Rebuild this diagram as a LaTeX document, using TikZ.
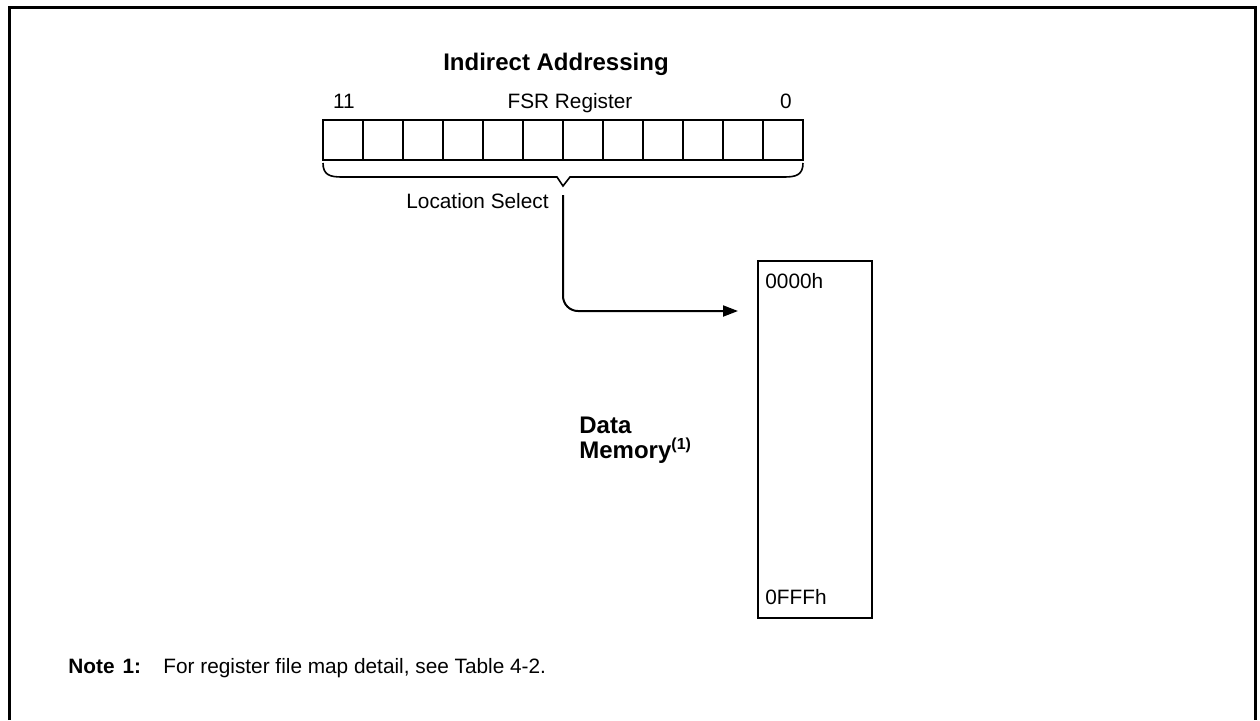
\documentclass[tikz,border=0pt]{standalone}
\usepackage{fontspec}
\setmainfont{Liberation Sans}
\usetikzlibrary{arrows.meta}
\begin{document}
\begin{tikzpicture}[x=0.5pt,y=-0.5pt,
  txt/.style={inner sep=0pt, font=\fontsize{10.4}{12}\selectfont},
  btxt/.style={inner sep=0pt, font=\fontsize{12}{14}\selectfont\bfseries},
  ntxt/.style={inner sep=0pt, font=\fontsize{10.4}{12}\selectfont\bfseries},
  cell/.style={draw, line width=1pt, minimum width=20pt, minimum height=20pt, inner sep=0pt, outer sep=0pt},
  membox/.style={draw, line width=1pt, minimum width=57pt, minimum height=178.5pt, inner sep=0pt},
  conn/.style={line width=1pt, rounded corners=7.5pt, -{Triangle[length=7.5pt,width=5.5pt]}},
  bracestyle/.style={line width=0.8pt}]
\useasboundingbox (0,0) rectangle (1260,720);
% frame (open at bottom)
\draw[line width=1.5pt] (9,720) -- (9,7) -- (1255,7) -- (1255,720);
% title
\node[btxt, anchor=base] (title) at (556,70) {Indirect Addressing};
% register
\foreach \i in {0,...,11} {
  \node[cell] (c\i) at ({343+40*\i},140) {};
}
\node[txt, anchor=base] (b11) at (344,108) {11};
\node[txt, anchor=base] (fsr) at (570,108) {FSR Register};
\node[txt, anchor=base] (b0) at (786,108) {0};
% brace
\coordinate (btip) at (563,186);
\draw[bracestyle] (c0.south west) ++(0,3) .. controls (323,175) and (330,177) .. (342,177)
  -- (557,177) -- (btip) -- (570,177) -- (784,177)
  .. controls (796,177) and (803,175) .. (803,163);
\node[txt, anchor=base east] (ls) at (549,208) {Location Select};
\coordinate (lsstart) at (563,195);
% memory
\node[membox, anchor=north west] (mem) at (757,260) {};
\node[txt, anchor=base west] (m0) at (765,288) {0000h};
\node[txt, anchor=base west] (m1) at (765,604) {0FFFh};
\node[btxt, anchor=base west] (dm) at (579,433) {Data};
\node[btxt, anchor=base west] (dm2) at (579,458) {Memory$^{\textbf{\fontsize{8}{9}\selectfont(1)}}$};
% connector
\draw[conn, shorten >=9.5pt] (lsstart) |- ([yshift=-25.5pt]mem.north west);
% note
\node[ntxt, anchor=base west] (note) at (68,673) {Note\hspace{4pt}1:};
\node[txt, anchor=base west] (notetxt) at (163,673) {For register file map detail, see Table 4-2.};
\end{tikzpicture}
\end{document}
